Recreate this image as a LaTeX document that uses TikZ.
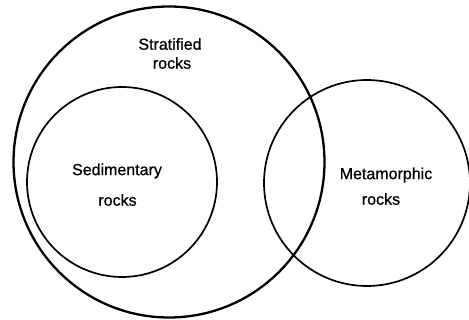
\documentclass[tikz,border=0pt]{standalone}
\usepackage{fontspec}
\setmainfont{Liberation Sans}
\newfontfamily\rockfont[FakeBold=0.7]{Liberation Sans}
\usepackage{tikz}
\tikzset{
  rockline/.style={black,line width=1.7pt},
  biglinebold/.style={black,line width=2.3pt},
  rocklabel/.style={inner sep=0pt,anchor=center,font=\rockfont\fontsize{16}{19}\selectfont}
}

\begin{document}
\begin{tikzpicture}[x=1pt,y=-1pt]
\path[use as bounding box] (0,0) rectangle (469,320);
\fill[white] (0,0) rectangle (469,320);
% circles
\draw[biglinebold] (169,162) circle (155.5);
\draw[rockline] (122,182) circle (95);
\draw[rockline] (367,183) circle (103);
% labels
\node[rocklabel] (strat1) at (170,44) {Stratified};
\node[rocklabel] (strat2) at (172,63) {rocks};
\node[rocklabel] (sedi1) at (117,171) {Sedimentary};
\node[rocklabel] (sedi2) at (117.5,200) {rocks};
\node[rocklabel] (meta1) at (386,175) {Metamorphic};
\node[rocklabel] (meta2) at (381,199) {rocks};
\end{tikzpicture}
\end{document}
